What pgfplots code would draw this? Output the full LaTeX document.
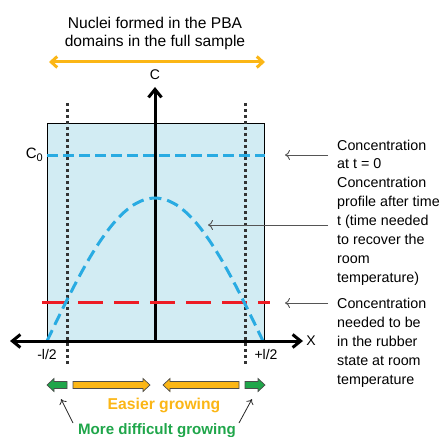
\documentclass[border=0pt]{standalone}
\usepackage{fontspec}
\setmainfont{Liberation Sans}
\usepackage{pgfplots}
\pgfplotsset{compat=1.18}
\usetikzlibrary{arrows.meta}

\definecolor{boxfill}{HTML}{D2ECF3}
\definecolor{cyanline}{HTML}{29ABE2}
\definecolor{redline}{HTML}{ED1C24}
\definecolor{orangeA}{HTML}{FBB616}
\definecolor{greenA}{HTML}{1FA64A}
\definecolor{dotgray}{HTML}{333333}
\definecolor{annot}{HTML}{555555}

% block arrows (pixel coordinates, y grows downwards)
\newcommand{\barrowR}[4]{\draw[fill=#4, draw=black!70, line width=0.7bp]
  (#1,#3-3.5) -- ({#2-7},#3-3.5) -- ({#2-7},#3-6.5) -- (#2,#3) -- ({#2-7},#3+6.5) -- ({#2-7},#3+3.5) -- (#1,#3+3.5) -- cycle;}
\newcommand{\barrowL}[4]{\draw[fill=#4, draw=black!70, line width=0.7bp]
  (#2,#3-3.5) -- ({#1+7},#3-3.5) -- ({#1+7},#3-6.5) -- (#1,#3) -- ({#1+7},#3+6.5) -- ({#1+7},#3+3.5) -- (#2,#3+3.5) -- cycle;}

\begin{document}
\begin{tikzpicture}
\begin{axis}[
    name=ax,
    hide axis,
    scale only axis,
    width=448bp, height=437bp,
    xmin=0, xmax=448,
    ymin=0, ymax=437,
    y dir=reverse,
    clip=false,
]

% sample domain
\addplot[draw=black, line width=0.8bp, fill=boxfill]
coordinates {(47,341) (47,123) (264,123) (264,341) (47,341)};

% domain limits
\addplot[dotgray, line width=3bp, dash pattern=on 3bp off 3bp]
coordinates {(67,103) (67,366)};
\addplot[dotgray, line width=3bp, dash pattern=on 3bp off 3bp]
coordinates {(245,103) (245,366)};

% C axis
\draw[line width=3bp, -{Straight Barb[length=8bp,width=13bp]}] (155,342) -- (155,87);

% concentration needed for rubber state
\addplot[redline, line width=3bp, dash pattern=on 25bp off 11bp]
coordinates {(42,302) (270,302)};

% concentration at t = 0
\addplot[cyanline, line width=3bp, dash pattern=on 11bp off 5bp]
coordinates {(47,155) (265,155)};

% profile after time t
\addplot[cyanline, line width=3bp, dash pattern=on 12bp off 6bp, smooth]
coordinates {
    (47,341) (57.8,318.6) (68.6,296.8) (79.4,276.1) (90.2,256.9)
    (101,239.9) (111.8,225.3) (122.6,213.6) (133.4,205.0) (144.2,199.8)
    (155,198) (165.8,199.8) (176.6,205.0) (187.4,213.6) (198.2,225.3)
    (209,239.9) (219.8,256.9) (230.6,276.1) (241.4,296.8) (252.2,318.6)
    (263,341)
};

% x axis
\draw[line width=3bp, {Straight Barb[length=8bp,width=13bp]}-{Straight Barb[length=8bp,width=13bp]}] (10,341) -- (303,341);

% labels on the axes
\node[font=\fontsize{14bp}{16bp}\selectfont] at (155,75) {C};
\node[font=\fontsize{14bp}{16bp}\selectfont] at (311,341) {X};
\node[anchor=east, inner sep=0, font=\fontsize{15bp}{17bp}\selectfont] at (43,155) {C\raisebox{-0.35ex}{\fontsize{11bp}{12bp}\selectfont 0}};
\node[font=\fontsize{14bp}{16bp}\selectfont] at (47,354) {-l/2};
\node[font=\fontsize{14bp}{16bp}\selectfont] at (266,354) {+l/2};

% title
\node[anchor=base, inner sep=0, font=\fontsize{15.6bp}{18bp}\selectfont] at (155,28.3) {Nuclei formed in the PBA};
\node[anchor=base, inner sep=0, font=\fontsize{15.6bp}{18bp}\selectfont] at (155,47) {domains in the full sample};
\draw[orangeA, line width=3bp, {Straight Barb[length=6bp,width=11bp]}-{Straight Barb[length=6bp,width=11bp]}] (49,62) -- (265,62);

% right-hand annotations
\draw[annot, line width=0.9bp, -{To[length=5bp,width=10bp]}] (328,155) -- (285,155);
\draw[annot, line width=0.9bp, -{To[length=5bp,width=10bp]}] (328,225) -- (208,225);
\draw[annot, line width=0.9bp, -{To[length=5bp,width=10bp]}] (328,303) -- (285,303);

\begin{scope}[every node/.style={anchor=base west, inner sep=0, font=\fontsize{14.3bp}{17bp}\selectfont}]
\node at (337,150) {Concentration};
\node at (337,168.9) {at t = 0};
\node at (337,187.8) {Concentration};
\node at (337,206.7) {profile after time};
\node at (337,225.6) {t (time needed};
\node at (337,244.5) {to recover the};
\node at (337,263.4) {room};
\node at (337,282.3) {temperature)};
\node at (337,308) {Concentration};
\node at (337,327) {needed to be};
\node at (337,346) {in the rubber};
\node at (337,365) {state at room};
\node at (337,384) {temperature};
\end{scope}

% growing directions
\barrowL{47}{67}{385}{greenA}
\barrowR{73}{150}{385}{orangeA}
\barrowL{163}{239}{385}{orangeA}
\barrowR{245}{265}{385}{greenA}

\draw[black!85, line width=0.8bp, -{To[length=5bp,width=8bp]}] (73,423) -- (61,399);
\draw[black!85, line width=0.8bp, -{To[length=5bp,width=8bp]}] (239,423) -- (252,399);

\node[text=orangeA, font=\bfseries\fontsize{15.7bp}{18bp}\selectfont] at (164,405) {Easier growing};
\node[text=greenA, font=\bfseries\fontsize{15.1bp}{18bp}\selectfont] at (157,430.5) {More difficult growing};

\end{axis}
\pgfresetboundingbox
\useasboundingbox (ax.south west) rectangle (ax.north east);
\end{tikzpicture}
\end{document}
